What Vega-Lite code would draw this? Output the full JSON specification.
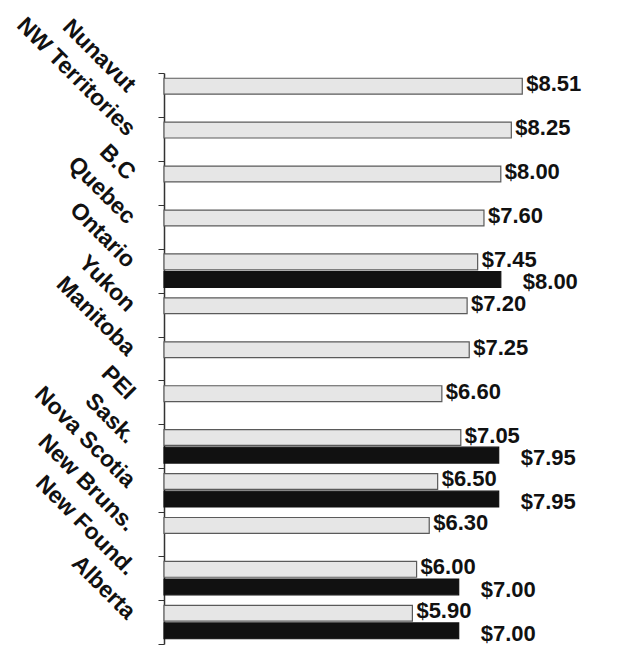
{
  "$schema": "https://vega.github.io/schema/vega-lite/v6.json",
  "width": 421,
  "height": 571,
  "autosize": {"type": "none"},
  "padding": {"left": 164, "top": 73, "right": 39, "bottom": 4},
  "background": "white",
  "config": {"view": {"stroke": null}, "font": "Liberation Sans"},
  "data": {
    "values": [
      {"province": "Nunavut", "series": "current", "wage": 8.51},
      {"province": "NW Territories", "series": "current", "wage": 8.25},
      {"province": "B.C", "series": "current", "wage": 8.00},
      {"province": "Quebec", "series": "current", "wage": 7.60},
      {"province": "Ontario", "series": "current", "wage": 7.45},
      {"province": "Ontario", "series": "scheduled", "wage": 8.00},
      {"province": "Yukon", "series": "current", "wage": 7.20},
      {"province": "Manitoba", "series": "current", "wage": 7.25},
      {"province": "PEI", "series": "current", "wage": 6.60},
      {"province": "Sask.", "series": "current", "wage": 7.05},
      {"province": "Sask.", "series": "scheduled", "wage": 7.95},
      {"province": "Nova Scotia", "series": "current", "wage": 6.50},
      {"province": "Nova Scotia", "series": "scheduled", "wage": 7.95},
      {"province": "New Bruns.", "series": "current", "wage": 6.30},
      {"province": "New Found.", "series": "current", "wage": 6.00},
      {"province": "New Found.", "series": "scheduled", "wage": 7.00},
      {"province": "Alberta", "series": "current", "wage": 5.90},
      {"province": "Alberta", "series": "scheduled", "wage": 7.00}
    ]
  },
  "encoding": {
    "y": {
      "field": "province",
      "type": "nominal",
      "sort": null,
      "scale": {"paddingInner": 0, "paddingOuter": 0},
      "axis": {
        "title": null,
        "domain": true,
        "domainColor": "#333333",
        "domainWidth": 1.5,
        "ticks": true,
        "tickBand": "extent",
        "tickSize": 6,
        "tickColor": "#333333",
        "labelAngle": 45,
        "labelAlign": "right",
        "labelBaseline": "middle",
        "labelFont": "Liberation Sans",
        "labelFontWeight": "bold",
        "labelFontSize": 23,
        "labelColor": "#111111",
        "labelPadding": 27,
        "labelOffset": -7,
        "labelOverlap": false,
        "labelLimit": 300
      }
    },
    "yOffset": {
      "field": "series",
      "type": "nominal",
      "sort": ["current", "scheduled"],
      "scale": {"paddingInner": 0.1, "paddingOuter": 0.3}
    },
    "x": {
      "field": "wage",
      "type": "quantitative",
      "scale": {"domain": [0, 10]},
      "axis": null
    }
  },
  "layer": [
    {
      "mark": {"type": "bar", "strokeWidth": 1.2},
      "encoding": {
        "color": {
          "field": "series",
          "type": "nominal",
          "scale": {"domain": ["current", "scheduled"], "range": ["#e6e6e6", "#111111"]},
          "legend": null
        },
        "stroke": {
          "field": "series",
          "type": "nominal",
          "scale": {"domain": ["current", "scheduled"], "range": ["#5a5a5a", "#111111"]},
          "legend": null
        }
      }
    },
    {
      "transform": [{"filter": "datum.series == 'current'"}],
      "mark": {"type": "text", "align": "left", "baseline": "middle", "dx": 4, "dy": -2, "fontSize": 22, "fontWeight": "bold", "font": "Liberation Sans", "color": "#111111"},
      "encoding": {
        "text": {"field": "wage", "type": "quantitative", "format": "$.2f"}
      }
    },
    {
      "transform": [{"filter": "datum.series == 'scheduled'"}],
      "mark": {"type": "text", "align": "left", "baseline": "middle", "dx": 22, "dy": 3, "fontSize": 22, "fontWeight": "bold", "font": "Liberation Sans", "color": "#111111"},
      "encoding": {
        "text": {"field": "wage", "type": "quantitative", "format": "$.2f"}
      }
    }
  ]
}
